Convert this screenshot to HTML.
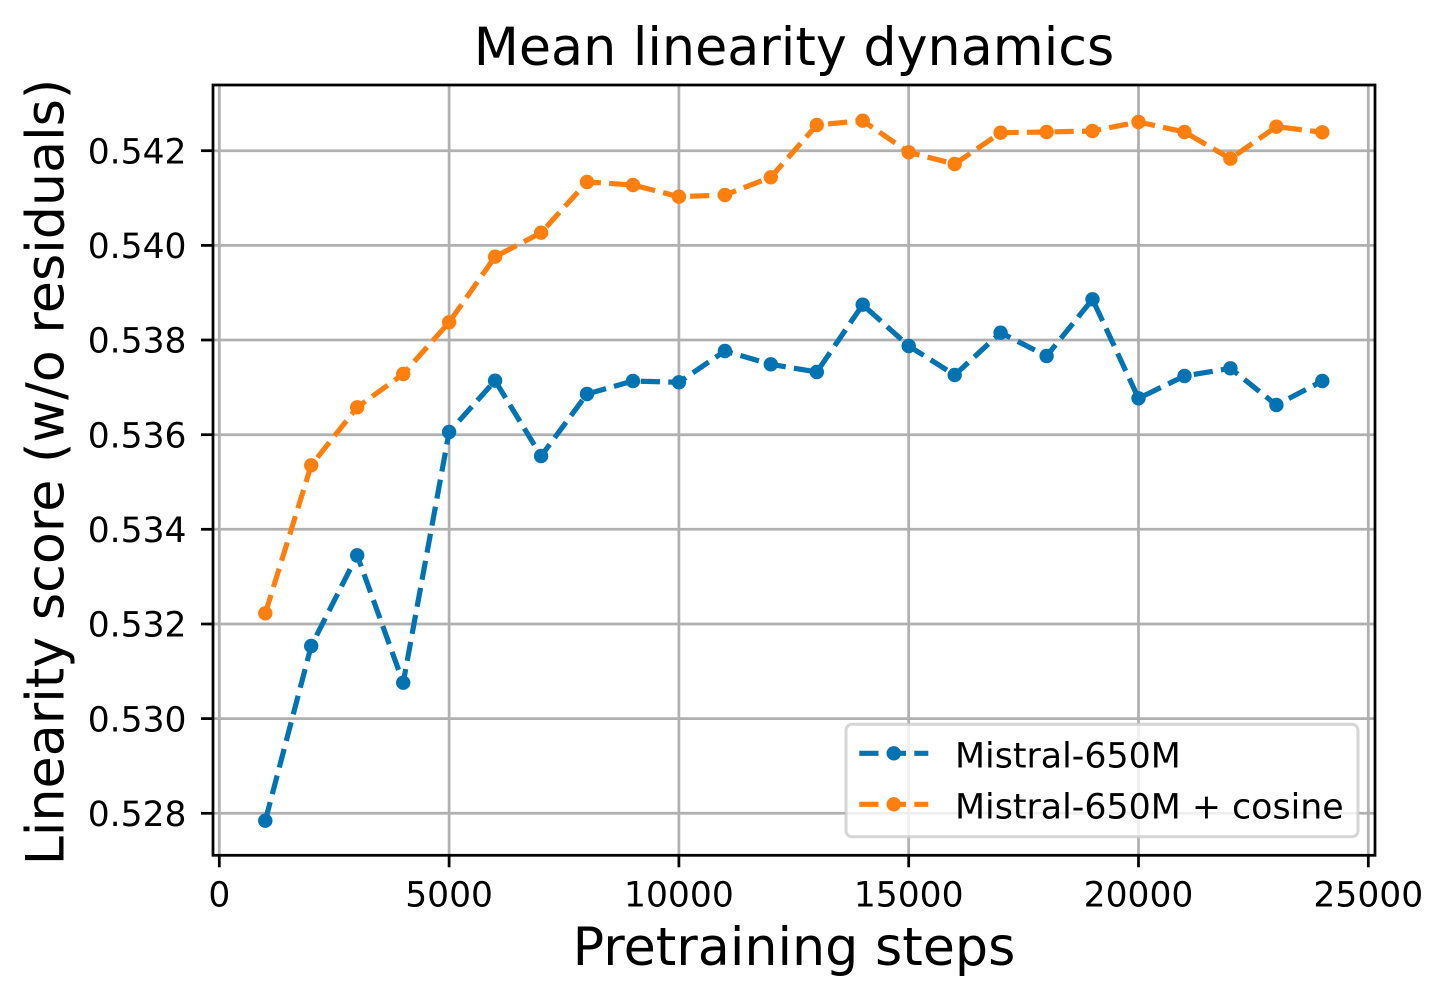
<!DOCTYPE html>
<html>
<head>
<meta charset="utf-8">
<style>
  html, body { margin:0; padding:0; background:#ffffff; }
  svg { display:block; }
  text { font-family: "DejaVu Sans", "Liberation Sans", sans-serif; fill:#000; }
</style>
</head>
<body>
<svg width="1448" height="1002" viewBox="0 0 1448 1002" xmlns="http://www.w3.org/2000/svg">
  <rect x="0" y="0" width="1448" height="1002" fill="#ffffff"/>

  <!-- grid -->
  <g stroke="#b0b0b0" stroke-width="2.76" fill="none">
    <line x1="219.3" y1="85" x2="219.3" y2="855.3"/>
    <line x1="449.1" y1="85" x2="449.1" y2="855.3"/>
    <line x1="678.9" y1="85" x2="678.9" y2="855.3"/>
    <line x1="908.7" y1="85" x2="908.7" y2="855.3"/>
    <line x1="1138.5" y1="85" x2="1138.5" y2="855.3"/>
    <line x1="1368.3" y1="85" x2="1368.3" y2="855.3"/>

    <line x1="213" y1="813.3" x2="1375" y2="813.3"/>
    <line x1="213" y1="718.6" x2="1375" y2="718.6"/>
    <line x1="213" y1="624" x2="1375" y2="624"/>
    <line x1="213" y1="529.3" x2="1375" y2="529.3"/>
    <line x1="213" y1="434.7" x2="1375" y2="434.7"/>
    <line x1="213" y1="340" x2="1375" y2="340"/>
    <line x1="213" y1="245.4" x2="1375" y2="245.4"/>
    <line x1="213" y1="150.7" x2="1375" y2="150.7"/>
  </g>

  <!-- blue series -->
  <polyline fill="none" stroke="#0173b2" stroke-width="5.2" stroke-dasharray="19.2 8.3" stroke-linejoin="round" stroke-linecap="butt"
    points="265.3,820.7 311.2,646 357.2,555.3 403.2,682.7 449.1,432 495.1,380.7 541.1,456 587,394 633,381 678.9,382.3 724.9,351 770.8,364.3 816.8,372 862.7,304.7 908.7,346 954.7,375 1000.6,332.7 1046.6,356 1092.5,299.3 1138.5,398.3 1184.5,376 1230.4,368.3 1276.4,405 1322.3,381"/>
  <g fill="#0173b2">
    <circle cx="265.3" cy="820.7" r="7.2"/>
    <circle cx="311.2" cy="646" r="7.2"/>
    <circle cx="357.2" cy="555.3" r="7.2"/>
    <circle cx="403.2" cy="682.7" r="7.2"/>
    <circle cx="449.1" cy="432" r="7.2"/>
    <circle cx="495.1" cy="380.7" r="7.2"/>
    <circle cx="541.1" cy="456" r="7.2"/>
    <circle cx="587" cy="394" r="7.2"/>
    <circle cx="633" cy="381" r="7.2"/>
    <circle cx="678.9" cy="382.3" r="7.2"/>
    <circle cx="724.9" cy="351" r="7.2"/>
    <circle cx="770.8" cy="364.3" r="7.2"/>
    <circle cx="816.8" cy="372" r="7.2"/>
    <circle cx="862.7" cy="304.7" r="7.2"/>
    <circle cx="908.7" cy="346" r="7.2"/>
    <circle cx="954.7" cy="375" r="7.2"/>
    <circle cx="1000.6" cy="332.7" r="7.2"/>
    <circle cx="1046.6" cy="356" r="7.2"/>
    <circle cx="1092.5" cy="299.3" r="7.2"/>
    <circle cx="1138.5" cy="398.3" r="7.2"/>
    <circle cx="1184.5" cy="376" r="7.2"/>
    <circle cx="1230.4" cy="368.3" r="7.2"/>
    <circle cx="1276.4" cy="405" r="7.2"/>
    <circle cx="1322.3" cy="381" r="7.2"/>
  </g>

  <!-- orange series -->
  <polyline fill="none" stroke="#ff7f0e" stroke-width="5.2" stroke-dasharray="19.2 8.3" stroke-linejoin="round" stroke-linecap="butt"
    points="265.3,613.3 311.2,465.3 357.2,407.3 403.2,374 449.1,322.3 495.1,256.7 541.1,232.7 587,182 633,185 678.9,196.7 724.9,195 770.8,177.3 816.8,125 862.7,120.7 908.7,152.3 954.7,164 1000.6,132.7 1046.6,132 1092.5,131 1138.5,122 1184.5,132 1230.4,158.7 1276.4,126.7 1322.3,132.3"/>
  <g fill="#ff7f0e">
    <circle cx="265.3" cy="613.3" r="7.2"/>
    <circle cx="311.2" cy="465.3" r="7.2"/>
    <circle cx="357.2" cy="407.3" r="7.2"/>
    <circle cx="403.2" cy="374" r="7.2"/>
    <circle cx="449.1" cy="322.3" r="7.2"/>
    <circle cx="495.1" cy="256.7" r="7.2"/>
    <circle cx="541.1" cy="232.7" r="7.2"/>
    <circle cx="587" cy="182" r="7.2"/>
    <circle cx="633" cy="185" r="7.2"/>
    <circle cx="678.9" cy="196.7" r="7.2"/>
    <circle cx="724.9" cy="195" r="7.2"/>
    <circle cx="770.8" cy="177.3" r="7.2"/>
    <circle cx="816.8" cy="125" r="7.2"/>
    <circle cx="862.7" cy="120.7" r="7.2"/>
    <circle cx="908.7" cy="152.3" r="7.2"/>
    <circle cx="954.7" cy="164" r="7.2"/>
    <circle cx="1000.6" cy="132.7" r="7.2"/>
    <circle cx="1046.6" cy="132" r="7.2"/>
    <circle cx="1092.5" cy="131" r="7.2"/>
    <circle cx="1138.5" cy="122" r="7.2"/>
    <circle cx="1184.5" cy="132" r="7.2"/>
    <circle cx="1230.4" cy="158.7" r="7.2"/>
    <circle cx="1276.4" cy="126.7" r="7.2"/>
    <circle cx="1322.3" cy="132.3" r="7.2"/>
  </g>

  <!-- spines -->
  <rect x="213" y="85" width="1162" height="770.3" fill="none" stroke="#000" stroke-width="2.76" stroke-linejoin="miter"/>

  <!-- ticks -->
  <g stroke="#000" stroke-width="2.76">
    <line x1="219.3" y1="855.3" x2="219.3" y2="867.3"/>
    <line x1="449.1" y1="855.3" x2="449.1" y2="867.3"/>
    <line x1="678.9" y1="855.3" x2="678.9" y2="867.3"/>
    <line x1="908.7" y1="855.3" x2="908.7" y2="867.3"/>
    <line x1="1138.5" y1="855.3" x2="1138.5" y2="867.3"/>
    <line x1="1368.3" y1="855.3" x2="1368.3" y2="867.3"/>

    <line x1="201" y1="813.3" x2="213" y2="813.3"/>
    <line x1="201" y1="718.6" x2="213" y2="718.6"/>
    <line x1="201" y1="624" x2="213" y2="624"/>
    <line x1="201" y1="529.3" x2="213" y2="529.3"/>
    <line x1="201" y1="434.7" x2="213" y2="434.7"/>
    <line x1="201" y1="340" x2="213" y2="340"/>
    <line x1="201" y1="245.4" x2="213" y2="245.4"/>
    <line x1="201" y1="150.7" x2="213" y2="150.7"/>
  </g>

  <!-- x tick labels -->
  <g font-size="34.5" text-anchor="middle">
    <text x="219.3" y="906.5">0</text>
    <text x="449.1" y="906.5">5000</text>
    <text x="678.9" y="906.5">10000</text>
    <text x="908.7" y="906.5">15000</text>
    <text x="1138.5" y="906.5">20000</text>
    <text x="1368.3" y="906.5">25000</text>
  </g>

  <!-- y tick labels -->
  <g font-size="34.5" text-anchor="end">
    <text x="186.5" y="826">0.528</text>
    <text x="186.5" y="731.3">0.530</text>
    <text x="186.5" y="636.7">0.532</text>
    <text x="186.5" y="542">0.534</text>
    <text x="186.5" y="447.4">0.536</text>
    <text x="186.5" y="352.7">0.538</text>
    <text x="186.5" y="258.1">0.540</text>
    <text x="186.5" y="163.4">0.542</text>
  </g>

  <!-- title and axis labels -->
  <text x="794" y="65" font-size="52.3" text-anchor="middle">Mean linearity dynamics</text>
  <text x="794" y="965" font-size="52.3" text-anchor="middle">Pretraining steps</text>
  <text x="0" y="0" font-size="52.3" text-anchor="middle" transform="translate(63.3,472) rotate(-90)">Linearity score (w/o residuals)</text>

  <!-- legend -->
  <rect x="846" y="724.3" width="512" height="112.4" rx="6" ry="6" fill="#ffffff" fill-opacity="0.8" stroke="#cccccc" stroke-opacity="0.8" stroke-width="3"/>
  <line x1="859.3" y1="753.3" x2="928.3" y2="753.3" stroke="#0173b2" stroke-width="5.2" stroke-dasharray="19.2 8.3"/>
  <circle cx="893.8" cy="753.3" r="7.2" fill="#0173b2"/>
  <line x1="859.3" y1="804.3" x2="928.3" y2="804.3" stroke="#ff7f0e" stroke-width="5.2" stroke-dasharray="19.2 8.3"/>
  <circle cx="893.8" cy="804.3" r="7.2" fill="#ff7f0e"/>
  <text x="955" y="767.5" font-size="34.8">Mistral-650M</text>
  <text x="955" y="818.5" font-size="34.8">Mistral-650M + cosine</text>
</svg>
</body>
</html>
